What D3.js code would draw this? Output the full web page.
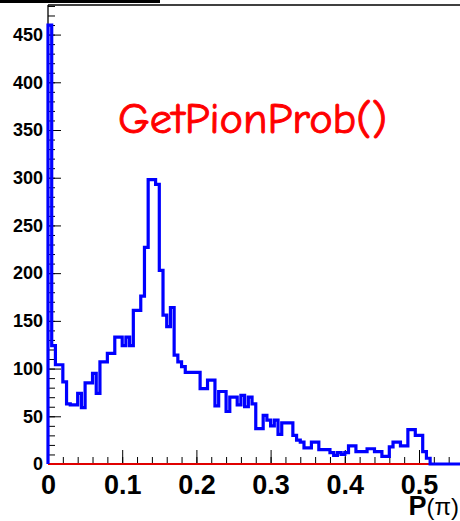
<!DOCTYPE html>
<html>
<head>
<meta charset="utf-8">
<script src="https://cdn.jsdelivr.net/npm/d3@7"></script>
<style>
  html, body { margin: 0; padding: 0; background: #fff; }
  svg { display: block; }
</style>
</head>
<body>
<script>
// Histogram of GetPionProb() output, bins of 0.005 starting at P = 0
const binWidth = 0.005;
const counts = [
  460, 124, 104, 104, 86, 63, 62, 62, 74, 59,
  85, 85, 95, 74, 107, 107, 116, 116, 133, 133,
  124, 133, 124, 161, 161, 176, 227, 298, 298, 293,
  203, 156, 144, 164, 114, 107, 102, 96, 96, 96,
  96, 79, 79, 88, 88, 61, 76, 76, 55, 70,
  70, 62, 72, 60, 70, 63, 37, 37, 51, 46,
  40, 46, 31, 43, 43, 43, 30, 25, 23, 17,
  17, 23, 23, 15, 15, 15, 12, 9, 12, 10,
  12, 19, 19, 13, 13, 13, 16, 16, 13, 13,
  8, 8, 18, 23, 23, 19, 19, 36, 36, 30,
  30, 13, 6, 0, 0, 0, 0, 0, 0, 0,
  0, 0
];
const xMajorTicks = [0, 0.1, 0.2, 0.3, 0.4, 0.5];
const xTickLabels = ["0", "0.1", "0.2", "0.3", "0.4", "0.5"];
const yMajorTicks = [0, 50, 100, 150, 200, 250, 300, 350, 400, 450];
const titleText = "GetPionProb()";
const xAxisTitle = "P";
const xAxisTitleSym = "(\u03c0)";

const W = 460, H = 521;
const svg = d3.select("body").append("svg")
  .attr("width", W).attr("height", H);

const x = d3.scaleLinear().domain([0, 0.56]).range([48, 48 + 742 * 0.56]);
const y = d3.scaleLinear().domain([0, 481]).range([464, 5]);

// thick rule at the very top-left
svg.append("rect").attr("x", 0).attr("y", 0).attr("width", 160).attr("height", 3).attr("fill", "#000");

// frame lines
svg.append("line").attr("x1", x(0)).attr("x2", W).attr("y1", y.range()[1]).attr("y2", y.range()[1])
  .attr("stroke", "#000").attr("stroke-width", 1.3);
svg.append("line").attr("x1", x(0)).attr("x2", x(0)).attr("y1", y.range()[1]).attr("y2", y(0))
  .attr("stroke", "#000").attr("stroke-width", 1.3);
svg.append("line").attr("x1", x(0)).attr("x2", W).attr("y1", y(0)).attr("y2", y(0))
  .attr("stroke", "#000").attr("stroke-width", 1.3);

const labelFont = "'Liberation Sans', Arial, Helvetica, sans-serif";

// y axis: minor ticks every 10, major every 50 (pointing inward)
const yMinor = d3.range(0, 481, 10);
svg.append("g").attr("transform", `translate(${x(0)},0)`)
  .call(d3.axisLeft(y).tickValues(yMinor).tickSize(-7).tickFormat(""))
  .call(g => g.select(".domain").remove())
  .call(g => g.selectAll("line").attr("stroke", "#000"));
svg.append("g").attr("transform", `translate(${x(0)},0)`)
  .call(d3.axisLeft(y).tickValues(yMajorTicks).tickSize(-13).tickPadding(5).tickFormat(d3.format("d")))
  .call(g => g.select(".domain").remove())
  .call(g => g.selectAll("line").attr("stroke", "#000"))
  .call(g => g.selectAll("text")
    .attr("font-family", labelFont).attr("font-weight", "bold")
    .attr("font-size", 18).attr("fill", "#000"));

// x axis: minor ticks every 0.02, major every 0.1
const xMinor = d3.range(0, 56).filter(i => i % 2 === 0).map(i => i / 100);
svg.append("g").attr("transform", `translate(0,${y(0)})`)
  .call(d3.axisBottom(x).tickValues(xMinor).tickSize(-7).tickFormat(""))
  .call(g => g.select(".domain").remove())
  .call(g => g.selectAll("line").attr("stroke", "#000"));
svg.append("g").attr("transform", `translate(0,${y(0)})`)
  .call(d3.axisBottom(x).tickValues(xMajorTicks).tickSize(-14).tickPadding(11)
    .tickFormat((d, i) => xTickLabels[i]))
  .call(g => g.select(".domain").remove())
  .call(g => g.selectAll("line").attr("stroke", "#000"))
  .call(g => g.selectAll("text")
    .attr("font-family", labelFont).attr("font-weight", "bold")
    .attr("font-size", 27).attr("fill", "#000"));

// red zero line
svg.append("line").attr("x1", x(0)).attr("x2", W).attr("y1", y(0)).attr("y2", y(0))
  .attr("stroke", "#e00000").attr("stroke-width", 2);

// histogram outline
const pts = [[0, 0]].concat(counts.map((c, i) => [i * binWidth, c]));
pts.push([counts.length * binWidth, counts[counts.length - 1]]);
const line = d3.line().x(d => x(d[0])).y(d => y(d[1])).curve(d3.curveStepAfter);
svg.append("path").attr("d", line(pts))
  .attr("fill", "none").attr("stroke", "#0000ff").attr("stroke-width", 3.2)
  .attr("stroke-linejoin", "miter");

// axis title
const xt = svg.append("text").attr("x", 459).attr("y", 515).attr("text-anchor", "end")
  .attr("font-family", labelFont).attr("fill", "#000");
xt.append("tspan").attr("font-weight", "bold").attr("font-size", 27).text(xAxisTitle);
xt.append("tspan").attr("font-size", 24).text(xAxisTitleSym);

// title
svg.append("text").attr("x", 118).attr("y", 133)
  .attr("font-family", "'Comic Sans MS', 'Comic Neue', 'DejaVu Sans', sans-serif")
  .attr("font-size", 42).attr("fill", "#ff0000")
  .attr("stroke", "#ff0000").attr("stroke-width", 0.9)
  .attr("textLength", 269).attr("lengthAdjust", "spacingAndGlyphs")
  .text(titleText);
</script>
</body>
</html>
